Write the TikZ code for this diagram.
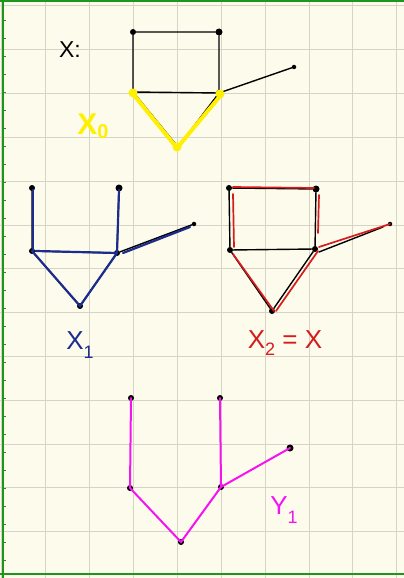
\documentclass[tikz,border=0pt]{standalone}
\usepackage{fontspec}
\setmainfont{Liberation Sans}
\definecolor{bgc}{RGB}{253,251,236}
\definecolor{gridc}{RGB}{214,212,198}
\definecolor{bordc}{RGB}{30,150,30}
\definecolor{ylw}{RGB}{255,240,0}
\definecolor{nvy}{RGB}{28,44,140}
\definecolor{rdc}{RGB}{214,28,28}
\definecolor{mgt}{RGB}{245,20,240}
\begin{document}
\begin{tikzpicture}[x=1pt,y=-1pt,
  v/.style={circle,fill=black,inner sep=0pt,minimum size=6pt},
  vs/.style={circle,fill=black,inner sep=0pt,minimum size=4.5pt},
  edg/.style={line width=1.4pt,black,line cap=round},
  ylwl/.style={line width=4pt,ylw,line cap=round,line join=round},
  bluel/.style={line width=2.2pt,nvy,line cap=round},
  redl/.style={line width=1.7pt,rdc,line cap=round},
  magl/.style={line width=2pt,mgt,line cap=round},
  lbl/.style={inner sep=0pt,font=\fontsize{26}{30}\selectfont}]
\fill[bgc] (0,0) rectangle (404,578);
\useasboundingbox (0,0) rectangle (404,578);
% grid
\foreach \gx in {1,45,89,133,177,221,265,309,352,396}
  \draw[gridc,line width=0.8pt] (\gx,0) -- (\gx,578);
\foreach \gy in {5,49,93,137,181,225,268,312,356,400,444,487,531}
  \draw[gridc,line width=0.8pt] (0,\gy) -- (404,\gy);
% border
\draw[bordc,line width=2pt] (0,1.5) -- (404,1.5);
\draw[bordc,line width=2pt] (0,574) -- (404,574);
\draw[bordc,line width=2pt] (3,0) -- (3,578);
\foreach \ty in {20,38,...,570}
  \draw[bordc,line width=0.8pt] (3,\ty) -- (6,\ty);

% ---------- graph X ----------
\node[v] (a1) at (133,32) {};
\node[v,minimum size=7pt] (a2) at (219,32) {};
\node[v] (a3) at (133,92) {};
\node[v] (a4) at (219,93) {};
\node[v] (a5) at (178,147) {};
\node[vs] (a6) at (294,67) {};
\draw[edg] (a1) -- (a2) -- (a4) -- (a3) -- (a1);
\draw[edg] (a3) -- (a5) -- (a4) -- (a6);
\draw[ylwl] ([shift={(0,2)}]a3.center) -- ([shift={(-1,1)}]a5.center) -- ([shift={(2,2)}]a4.center);
\node[circle,fill=ylw,inner sep=0pt,minimum size=9pt] (y3) at ([shift={(0,1)}]a3.center) {};
\node[circle,fill=ylw,inner sep=0pt,minimum size=9pt] (y4) at ([shift={(1,1)}]a4.center) {};
\node[circle,fill=ylw,inner sep=0pt,minimum size=9pt] (y5) at ([shift={(-1,0)}]a5.center) {};
\node[lbl,font=\fontsize{23}{26}\selectfont] (lx) at (70,50) {X:};
\node[lbl,text=ylw,font=\fontsize{30}{34}\selectfont\bfseries] (lx0) at (93,126) {X\raisebox{-0.25ex}{\fontsize{20}{22}\selectfont 0}};

% ---------- graph X1 ----------
\node[v] (b1) at (32,188) {};
\node[v,minimum size=7pt] (b2) at (119,188) {};
\node[v] (b3) at (32,251) {};
\node[v] (b4) at (117,253) {};
\node[v] (b5) at (80,306) {};
\node[vs] (b6) at (194,224) {};
\draw[edg] (b1) -- (b3) -- (b4) -- (b2);
\draw[edg] (b3) -- (b5) -- (b4) -- (b6);
\draw[bluel] ([shift={(1,2)}]b1.center) -- ([shift={(1,0)}]b3.center);
\draw[bluel] ([shift={(0,2)}]b2.center) -- (b4.center);
\draw[bluel] ([shift={(4,0)}]b3.center) -- (b4.center);
\draw[bluel] (b3.center) -- (b5.center) -- (b4.center);
\draw[bluel] ([shift={(6,0)}]b4.center) -- ([shift={(-4,3)}]b6.center);
\node[lbl,text=nvy] (lx1) at (80,345) {X\raisebox{-0.6ex}{\fontsize{18}{20}\selectfont 1}};

% ---------- graph X2 ----------
\node[v] (c1) at (229,188) {};
\node[v,minimum size=7pt] (c2) at (316,189) {};
\node[v] (c3) at (230,250) {};
\node[v] (c4) at (315,249) {};
\node[v] (c5) at (272,311) {};
\node[vs] (c6) at (390,224) {};
\draw[edg] (c1) -- (c2) -- (c4) -- (c3) -- (c1);
\draw[edg] (c3) -- (c5) -- (c4);
\draw[edg] ([shift={(4,3)}]c4.center) -- ([shift={(-7,3)}]c6.center);
\draw[redl] ([shift={(4,-1)}]c1.center) -- ([shift={(-2,-1)}]c2.center);
\draw[redl] ([shift={(4,6)}]c1.center) -- ([shift={(4,-3)}]c3.center);
\draw[redl] ([shift={(3,6)}]c2.center) -- ([shift={(3,-16)}]c4.center);
\draw[redl] ([shift={(3,4)}]c3.center) -- ([shift={(2,0)}]c5.center);
\draw[redl] ([shift={(3,2)}]c4.center) -- ([shift={(4,0)}]c5.center);
\draw[redl] ([shift={(4,-2)}]c4.center) -- (c6.center);
\node[lbl,text=rdc] (lx2) at (285,343) {X\raisebox{-0.45ex}{\fontsize{18}{20}\selectfont 2} = X};

% ---------- graph Y1 ----------
\node[v] (d1) at (131,398) {};
\node[v] (d2) at (220,398) {};
\node[v] (d3) at (130,488) {};
\node[v] (d4) at (221,487) {};
\node[v] (d5) at (181,542) {};
\node[v,minimum size=7pt] (d6) at (290,448) {};
\draw[magl] (d1.center) -- (d3.center) -- (d5.center) -- (d4.center) -- (d2.center);
\draw[magl] (d4.center) -- (d6.center);
\node[lbl,text=mgt] (ly1) at (284,510) {Y\raisebox{-0.6ex}{\fontsize{18}{20}\selectfont 1}};
\end{tikzpicture}
\end{document}
